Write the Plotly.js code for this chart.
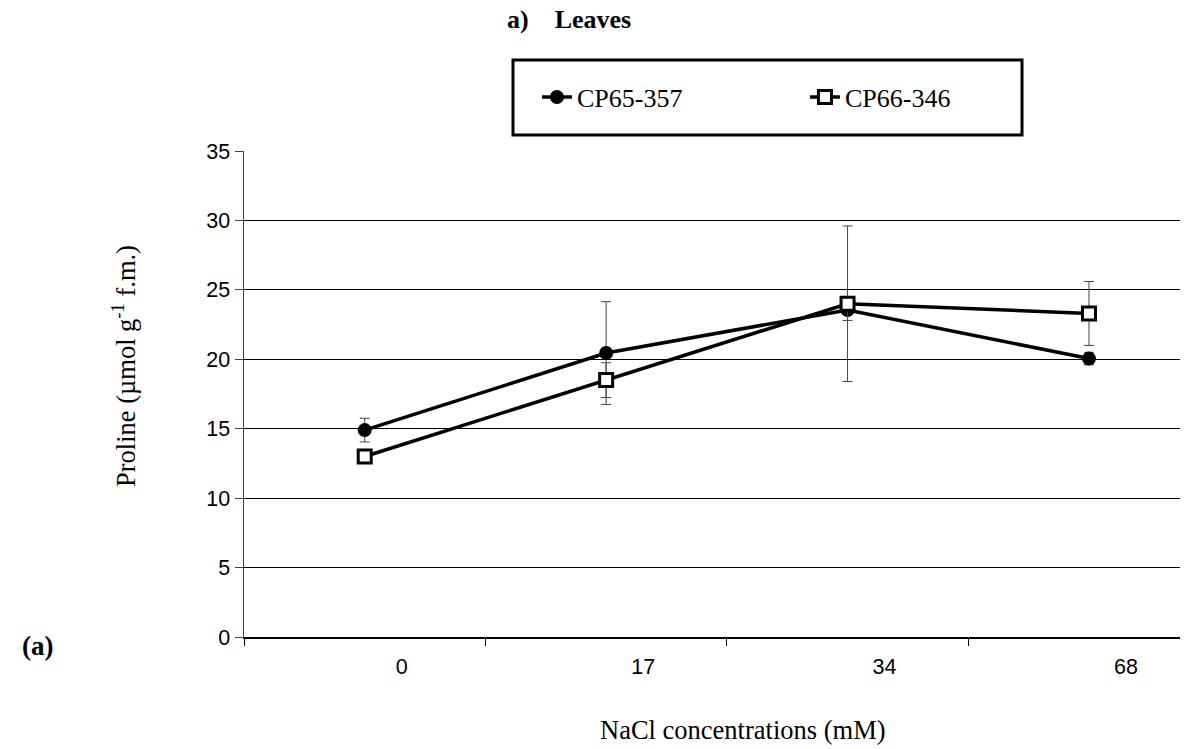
<!DOCTYPE html>
<html>
<head>
<meta charset="utf-8">
<script src="https://cdn.plot.ly/plotly-3.0.1.min.js"></script>
<style>html,body{margin:0;padding:0;background:#fff;}#chart{width:1199px;height:749px;}</style>
</head>
<body>
<div id="chart"></div>
<script>
const categories = ['0', '17', '34', '68'];
const seriesNames = ['CP65-357', 'CP66-346'];
const cp65 = [14.9, 20.45, 23.55, 20.05];
const cp65Err = [0.85, 3.7, 0.75, 0.45];
const cp66 = [13.0, 18.5, 24.0, 23.3];
const cp66Err = [0.0, 1.25, 5.6, 2.3];
const yTicks = [0, 5, 10, 15, 20, 25, 30, 35];
const chartTitle = 'a)&nbsp;&nbsp;&nbsp;&nbsp;Leaves';
const xTitle = 'NaCl concentrations (mM)';
const yTitle = 'Proline (µmol g<sup>-1</sup> f.m.)';
const panelLabel = '(a)';

const serif = 'Liberation Serif, Times New Roman, serif';
const sans = 'Liberation Sans, Arial, sans-serif';
const errStyle = {type: 'data', visible: true, color: '#444', thickness: 1, width: 5};

const traces = [
  {
    x: categories, y: cp65, name: seriesNames[0], type: 'scatter', mode: 'lines+markers',
    line: {color: '#000', width: 3.5},
    marker: {symbol: 'circle', size: 14, color: '#000', line: {color: '#000', width: 0}},
    error_y: Object.assign({array: cp65Err}, errStyle)
  },
  {
    x: categories, y: cp66, name: seriesNames[1], type: 'scatter', mode: 'lines+markers',
    line: {color: '#000', width: 3.5},
    marker: {symbol: 'square', size: 13, color: '#fff', line: {color: '#000', width: 3}},
    error_y: Object.assign({array: cp66Err}, errStyle)
  }
];

const layout = {
  width: 1199, height: 749,
  paper_bgcolor: '#fff', plot_bgcolor: '#fff',
  margin: {l: 244, r: 19, t: 151, b: 112},
  showlegend: true,
  title: {
    text: '<b>' + chartTitle + '</b>',
    font: {family: serif, size: 26, color: '#000'},
    x: 507 / 1199, xanchor: 'left', y: 1 - 19 / 749, yanchor: 'middle'
  },
  legend: {
    orientation: 'h', x: 0.313, xanchor: 'left', y: 1.111, yanchor: 'middle',
    bgcolor: 'rgba(0,0,0,0)', borderwidth: 0,
    entrywidth: 223, entrywidthmode: 'pixels',
    font: {family: serif, size: 26, color: '#000'}
  },
  xaxis: {
    type: 'category', categoryorder: 'array', categoryarray: categories,
    range: [-0.5, 3.377], tickson: 'boundaries',
    ticks: 'outside', ticklen: 7, tickcolor: '#000', tickwidth: 1,
    ticklabelshift: 37, ticklabelstandoff: 10,
    showline: true, linecolor: '#000', linewidth: 1.5,
    showgrid: false, zeroline: false, fixedrange: true,
    tickfont: {family: sans, size: 21.5, color: '#000'},
    automargin: false
  },
  yaxis: {
    range: [0, 35], tickvals: yTicks, ticktext: yTicks.map(String),
    ticks: 'outside', ticklen: 8, tickcolor: '#444', tickwidth: 1,
    showline: true, linecolor: '#444', linewidth: 1.5,
    showgrid: true, gridcolor: '#000', gridwidth: 1,
    zeroline: false, fixedrange: true,
    tickfont: {family: sans, size: 21.5, color: '#000'},
    automargin: false
  },
  shapes: [
    {type: 'rect', xref: 'paper', yref: 'paper',
     x0: (513 - 244) / 936, x1: (1022 - 244) / 936,
     y0: 1 + (151 - 135) / 486, y1: 1 + (151 - 60) / 486,
     line: {color: '#000', width: 3}, fillcolor: 'rgba(0,0,0,0)'}
  ],
  annotations: [
    {text: xTitle, xref: 'paper', yref: 'paper',
     x: (598 - 244) / 936, y: (637 - 730) / 486, xanchor: 'left', yanchor: 'middle',
     showarrow: false, font: {family: serif, size: 26.5, color: '#000'}},
    {text: yTitle, xref: 'paper', yref: 'paper', textangle: -90,
     x: (124 - 244) / 936, y: (637 - 366) / 486, xanchor: 'center', yanchor: 'middle',
     showarrow: false, font: {family: serif, size: 26.5, color: '#000'}},
    {text: '<b>' + panelLabel + '</b>', xref: 'paper', yref: 'paper',
     x: (37 - 244) / 936, y: (637 - 646) / 486, xanchor: 'center', yanchor: 'middle',
     showarrow: false, font: {family: serif, size: 27, color: '#000'}}
  ]
};

Plotly.newPlot('chart', traces, layout, {displayModeBar: false, staticPlot: true});
</script>
</body>
</html>
